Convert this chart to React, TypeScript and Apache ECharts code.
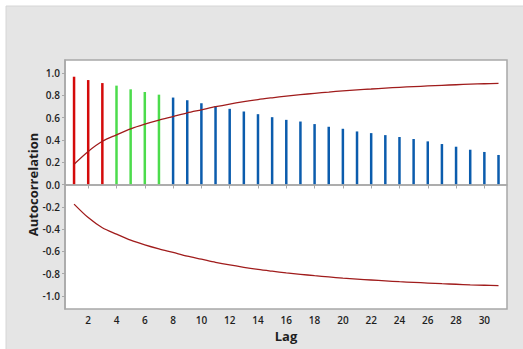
import React, { useEffect, useRef } from "react";
import * as echarts from "echarts";

const lags = [1,2,3,4,5,6,7,8,9,10,11,12,13,14,15,16,17,18,19,20,21,22,23,24,25,26,27,28,29,30,31];
const acf = [0.967,0.937,0.91,0.887,0.854,0.83,0.806,0.78,0.756,0.729,0.703,0.679,0.655,0.631,0.604,0.58,0.565,0.542,0.518,0.5,0.476,0.461,0.443,0.426,0.408,0.387,0.363,0.339,0.312,0.292,0.265];
const upperLimit = [0.182,0.297,0.388,0.446,0.5,0.542,0.578,0.61,0.643,0.67,0.698,0.722,0.743,0.762,0.778,0.793,0.806,0.818,0.829,0.84,0.849,0.857,0.865,0.872,0.878,0.884,0.89,0.895,0.9,0.904,0.908];
const lowerLimit = [-0.176,-0.297,-0.388,-0.446,-0.5,-0.542,-0.578,-0.61,-0.643,-0.67,-0.698,-0.722,-0.743,-0.762,-0.778,-0.793,-0.806,-0.818,-0.829,-0.84,-0.849,-0.857,-0.865,-0.872,-0.878,-0.884,-0.89,-0.895,-0.9,-0.904,-0.908];
const barColors = ["#d40a0a","#d40a0a","#d40a0a","#4cdc4c","#4cdc4c","#4cdc4c","#4cdc4c"];
const blue = "#0b5cad";
const xTicks = [2,4,6,8,10,12,14,16,18,20,22,24,26,28,30];
const yTicks = [-1.0,-0.8,-0.6,-0.4,-0.2,0.0,0.2,0.4,0.6,0.8,1.0];

export default function App() {
  const ref = useRef<HTMLDivElement>(null);
  useEffect(() => {
    if (!ref.current) return;
    const chart = echarts.init(ref.current, null, { renderer: "svg" });
    const labelStyle = { color: "#1e1e1e", fontSize: 10, fontFamily: "Open Sans", fontWeight: 600 };
    chart.setOption({
      animation: false,
      backgroundColor: "#ffffff",
      graphic: [
        {
          type: "rect",
          shape: { x: 6, y: 6, width: 530, height: 360 },
          style: { fill: "#e5e5e5", stroke: "#d6d6d6", lineWidth: 1 },
          z: -10,
        },
      ],
      grid: {
        left: 65,
        right: 16,
        top: 60,
        bottom: 40,
        show: true,
        backgroundColor: "#ffffff",
        borderColor: "#a8a8a8",
        borderWidth: 1.5,
      },
      xAxis: {
        type: "value",
        min: 0.36,
        max: 31.6,
        name: "Lag",
        nameLocation: "middle",
        nameGap: 20,
        nameMoveOverlap: false,
        nameTextStyle: { color: "#1e1e1e", fontSize: 13, fontFamily: "Open Sans", fontWeight: "bold" },
        axisLine: { show: true, lineStyle: { color: "#a8a8a8", width: 1.5 } },
        axisTick: { show: true, length: 4, lineStyle: { color: "#a8a8a8" }, customValues: xTicks },
        axisLabel: { ...labelStyle, margin: 6, customValues: xTicks, formatter: (v: number) => String(v) },
        splitLine: { show: false },
      },
      yAxis: {
        type: "value",
        min: -1.117,
        max: 1.117,
        name: "Autocorrelation",
        nameLocation: "middle",
        nameGap: 26,
        nameMoveOverlap: false,
        nameTextStyle: { color: "#1e1e1e", fontSize: 13, fontFamily: "Open Sans", fontWeight: "bold" },
        axisLine: { show: true, lineStyle: { color: "#a8a8a8", width: 1.5 } },
        axisTick: { show: true, length: 3, lineStyle: { color: "#a8a8a8" }, customValues: yTicks },
        axisLabel: { ...labelStyle, margin: 5, customValues: yTicks, formatter: (v: number) => v.toFixed(1) },
        splitLine: { show: false },
      },
      series: [
        {
          type: "bar",
          barWidth: 2.5,
          data: lags.map((l, i) => ({
            value: [l, acf[i]],
            itemStyle: { color: barColors[i] || blue },
          })),
          markLine: {
            silent: true,
            symbol: "none",
            label: { show: false },
            lineStyle: { color: "#a8a8a8", width: 1.5, type: "solid" },
            data: [{ yAxis: 0 }],
          },
        },
        {
          type: "line",
          data: lags.map((l, i) => [l, upperLimit[i]]),
          showSymbol: false,
          smooth: 0.3,
          lineStyle: { color: "#a01c1c", width: 1.3 },
        },
        {
          type: "line",
          data: lags.map((l, i) => [l, lowerLimit[i]]),
          showSymbol: false,
          smooth: 0.3,
          lineStyle: { color: "#a01c1c", width: 1.3 },
        },
      ],
    });
    return () => chart.dispose();
  }, []);
  return (
    <div
      ref={ref}
      style={{ position: "fixed", left: 0, top: 0, width: 523, height: 349 }}
    />
  );
}
